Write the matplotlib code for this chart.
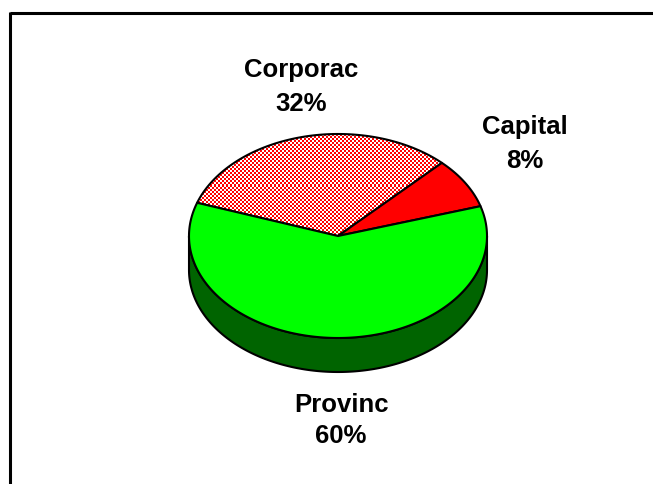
import numpy as np
import matplotlib
matplotlib.use("Agg")
import matplotlib.pyplot as plt
from matplotlib.patches import Polygon

# ---- data ----
categories = ["Corporac", "Capital", "Provinc"]
values = [32, 8, 60]
pct_labels = ["32%", "8%", "60%"]
top_colors = ["checker", "#FF0000", "#00FF00"]
side_colors = ["#800000", "#800000", "#006400"]

# ---- geometry (pixel space) ----
W, H = 653, 485
cx, cy, rx, ry, depth = 338, 237, 149, 102, 34
start_angle = 161.0

fig = plt.figure(figsize=(W / 100, H / 100), dpi=100)
ax = fig.add_axes([0, 0, 1, 1])
ax.set_xlim(0, W)
ax.set_ylim(H, 0)
ax.axis("off")

def ell(theta_deg, dy=0.0):
    t = np.radians(theta_deg)
    return cx + rx * np.cos(t), cy - ry * np.sin(t) + dy

total = float(sum(values))
angles = []
a = start_angle
for v in values:
    a2 = a - 360.0 * v / total
    angles.append((a, a2))
    a = a2

lw = 1.5

# side wall (front half, 180..360 deg), colored per slice
for (a1, a2), sc in zip(angles, side_colors):
    lo, hi = min(a1, a2), max(a1, a2)
    for shift in (0, 360, -360):
        l, h = lo + shift, hi + shift
        l2, h2 = max(l, 180), min(h, 360)
        if h2 > l2:
            th = np.linspace(l2, h2, 200)
            xt, yt = ell(th)
            xb, yb = ell(th[::-1], depth)
            pts = np.column_stack([np.concatenate([xt, xb]), np.concatenate([yt, yb])])
            ax.add_patch(Polygon(pts, closed=True, facecolor=sc, edgecolor="black",
                                 lw=lw, joinstyle="round", zorder=1))

# top wedges
for (a1, a2), tc in zip(angles, top_colors):
    th = np.linspace(a1, a2, 300)
    xe, ye = ell(th)
    pts = np.column_stack([np.concatenate([[cx], xe]), np.concatenate([[cy], ye])])
    if tc == "checker":
        poly = Polygon(pts, closed=True, facecolor="none", edgecolor="none")
        ax.add_patch(poly)
        x0, x1 = int(pts[:, 0].min()) - 2, int(pts[:, 0].max()) + 2
        y0, y1 = int(pts[:, 1].min()) - 2, int(pts[:, 1].max()) + 2
        yy, xx = np.mgrid[y0:y1, x0:x1]
        mask = ((xx // 2 + yy // 2) % 2) == 0
        img = np.ones((y1 - y0, x1 - x0, 3))
        img[mask] = [1.0, 0.0, 0.0]
        im = ax.imshow(img, extent=(x0, x1, y1, y0), interpolation="nearest",
                       zorder=2, aspect="auto")
        im.set_clip_path(poly)
        ax.add_patch(Polygon(pts, closed=True, facecolor="none", edgecolor="black",
                             lw=lw, joinstyle="round", zorder=3))
    else:
        ax.add_patch(Polygon(pts, closed=True, facecolor=tc, edgecolor="black",
                             lw=lw, joinstyle="round", zorder=3))
ax.set_xlim(0, W)
ax.set_ylim(H, 0)

# labels
label_pos = {"Corporac": (301, 77, 111), "Capital": (525, 134, 168), "Provinc": (341, 412, 443)}
for cat, pct in zip(categories, pct_labels):
    x, b1, b2 = label_pos[cat]
    ax.text(x, b1, cat, ha="center", va="baseline", fontsize=18.5, fontweight="bold",
            family="Liberation Sans", zorder=5)
    ax.text(x, b2, pct, ha="center", va="baseline", fontsize=18.5, fontweight="bold",
            family="Liberation Sans", zorder=5)

# frame (top and left edges)
ax.plot([9.5, W], [13.5, 13.5], color="black", lw=2.2, solid_capstyle="butt", zorder=6)
ax.plot([9.5, 9.5], [12.5, H], color="black", lw=2.2, solid_capstyle="butt", zorder=6)

fig.savefig("out.png", dpi=100)
